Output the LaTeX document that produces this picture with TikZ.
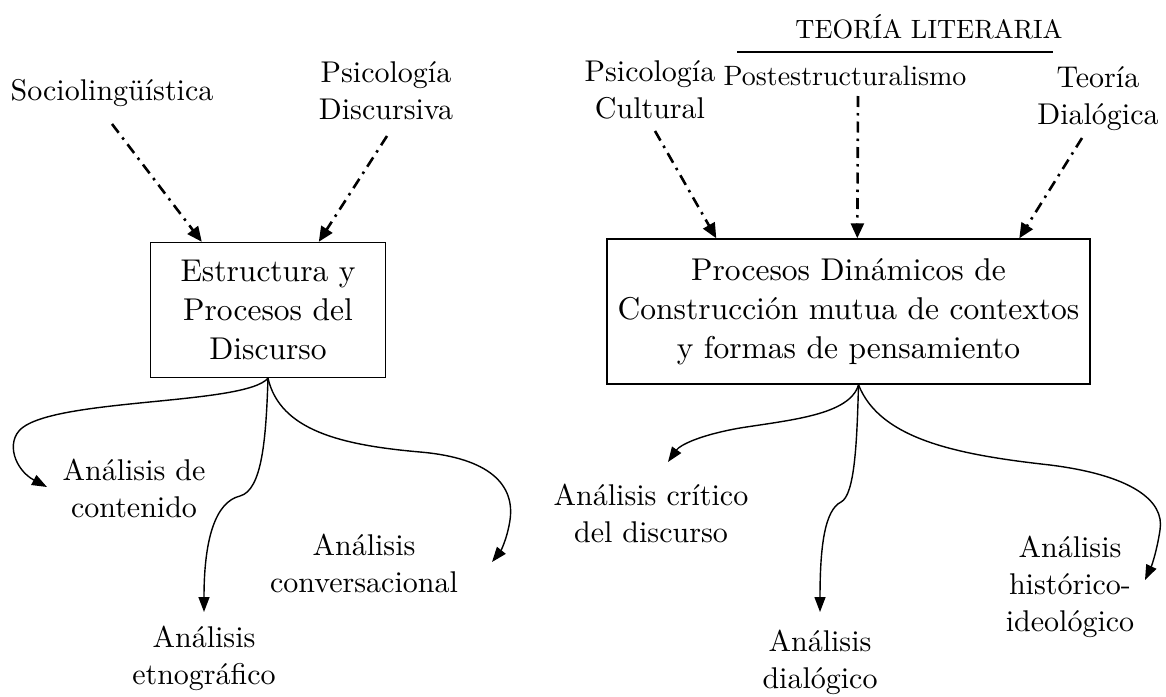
\documentclass[tikz,border=0pt]{standalone}
\usepackage{fontspec}
\setmainfont{lmroman10-regular.otf}
\usetikzlibrary{arrows.meta}
\begin{document}
\begin{tikzpicture}[x=1pt,y=-1pt,
  lbl/.style={font=\fontsize{30}{37}\selectfont, align=center, inner sep=0pt},
  boxnode/.style={draw, line width=1.4pt, align=center, inner sep=0pt, font=\fontsize{31.5}{39}\selectfont},
  dd/.style={line width=2.6pt, dash pattern=on 11pt off 6pt on 2.5pt off 6pt, -{Triangle[length=15pt,width=13pt]}},
  sol/.style={line width=1.4pt, -{Triangle[length=15pt,width=11pt]}}]
\useasboundingbox (0,0) rectangle (1166,696);

% ---------- left ----------
\node[lbl] (soc) at (112,93.5) {Sociolingüística};
\node[lbl] (psd) at (386,91) {Psicología\\Discursiva};
\node[boxnode, minimum width=235pt, minimum height=135pt] (b1) at (268,310) {Estructura y\\Procesos del\\Discurso};

\coordinate (s1) at (112,124);
\coordinate (s2) at (387,136);
\draw[dd] (s1) -- ([xshift=52pt]b1.north west);
\draw[dd] (s2) -- ([xshift=169pt]b1.north west);

\node[lbl] (con) at (134,488) {Análisis de\\contenido};
\node[lbl] (etn) at (204,658) {Análisis\\etnográfico};
\node[lbl] (cnv) at (364,563) {Análisis\\conversacional};

\coordinate (e1) at (47,487);
\coordinate (e2) at (204,612);
\coordinate (e3) at (492,562);
\draw[sol] (b1.south) .. controls (245,405) and (60,398) .. (22,428)
  .. controls (5,442) and (15,470) .. (e1);
\draw[sol] (b1.south) .. controls (266,440) and (262,490) .. (240,496)
  .. controls (215,502) and (204,540) .. (e2);
\draw[sol] (b1.south) .. controls (280,430) and (340,445) .. (420,452)
  .. controls (490,458) and (515,485) .. (510,520)
  .. controls (507,540) and (500,552) .. (e3);

% ---------- right ----------
\node[lbl, anchor=base, font=\fontsize{26.5}{32}\selectfont] (teo) at (929,38) {TEORÍA LITERARIA};
\coordinate (u1) at (737,52);
\coordinate (u2) at (1053,52);
\draw[line width=2pt] (u1) -- (u2);

\node[lbl] (psc) at (650,90) {Psicología\\Cultural};
\node[lbl, anchor=base, font=\fontsize{28}{35}\selectfont] (pos) at (845,85) {Postestructuralismo};
\node[lbl] (tdi) at (1098,99) {Teoría\\Dialógica};

\node[boxnode, minimum width=483pt, minimum height=145pt] (b2) at (848.5,311.5)
  {Procesos Dinámicos de\\Construcción mutua de contextos\\y formas de pensamiento};

\coordinate (s3) at (655,131);
\coordinate (s4) at (858,96);
\coordinate (s5) at (1082,138);
\draw[dd] (s3) -- ([xshift=110pt]b2.north west);
\draw[dd] (s4) -- ([xshift=251pt]b2.north west);
\draw[dd] (s5) -- ([xshift=413pt]b2.north west);

\node[lbl] (cri) at (651,513) {Análisis crítico\\del discurso};
\node[lbl] (dia) at (820,662) {Análisis\\dialógico};
\node[lbl] (his) at (1070,587) {Análisis\\histórico-\\ideológico};

\coordinate (o2) at ([xshift=10pt]b2.south);
\coordinate (e4) at (668,462);
\coordinate (e5) at (820,612);
\coordinate (e6) at (1145,580);
\draw[sol] (o2) .. controls (850,415) and (790,420) .. (740,428)
  .. controls (700,435) and (680,445) .. (e4);
\draw[sol] (o2) .. controls (857,440) and (855,495) .. (841,502)
  .. controls (825,510) and (820,545) .. (e5);
\draw[sol] (o2) .. controls (880,440) and (960,455) .. (1050,465)
  .. controls (1130,475) and (1165,500) .. (1160,530)
  .. controls (1157,550) and (1152,565) .. (e6);
\end{tikzpicture}
\end{document}
